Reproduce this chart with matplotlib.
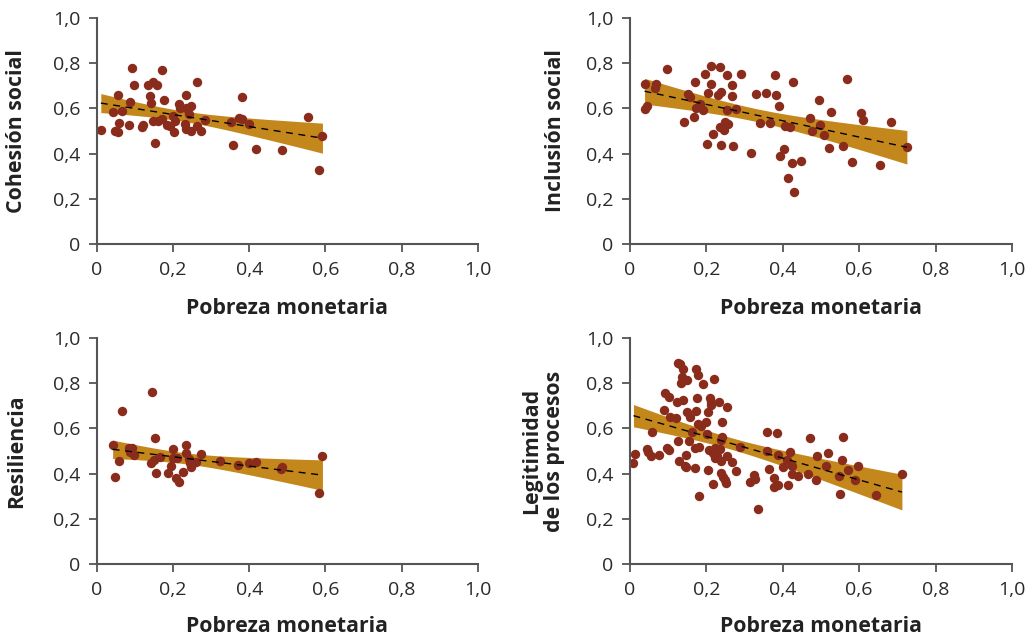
import numpy as np
import matplotlib
matplotlib.use("Agg")
import matplotlib.pyplot as plt

plt.rcParams['font.family'] = ['Open Sans', 'DejaVu Sans']

# Cohesión social vs pobreza monetaria
cohesion_x = [0.01, 0.093, 0.17, 0.098, 0.135, 0.146, 0.157, 0.262, 0.055, 0.14,
              0.176, 0.233, 0.381, 0.087, 0.143, 0.216, 0.247, 0.235, 0.218, 0.043,
              0.066, 0.241, 0.2, 0.171, 0.148, 0.161, 0.206, 0.283, 0.353, 0.372,
              0.382, 0.4, 0.554, 0.059, 0.085, 0.122, 0.117, 0.184, 0.192, 0.231,
              0.262, 0.047, 0.054, 0.201, 0.235, 0.248, 0.273, 0.151, 0.356, 0.417,
              0.485, 0.592, 0.584]
cohesion_y = [0.504, 0.777, 0.771, 0.705, 0.705, 0.717, 0.702, 0.717, 0.658, 0.655,
              0.637, 0.661, 0.649, 0.627, 0.625, 0.619, 0.612, 0.6, 0.603, 0.585,
              0.59, 0.575, 0.568, 0.554, 0.544, 0.543, 0.544, 0.549, 0.541, 0.559,
              0.553, 0.53, 0.561, 0.534, 0.525, 0.528, 0.518, 0.527, 0.522, 0.53,
              0.522, 0.5, 0.496, 0.496, 0.508, 0.501, 0.5, 0.446, 0.437, 0.42,
              0.417, 0.479, 0.327]

# Inclusión social
inclusion_x = [0.038, 0.068, 0.065, 0.098, 0.039, 0.045, 0.151, 0.157, 0.17, 0.142,
               0.168, 0.173, 0.183, 0.19, 0.196, 0.212, 0.236, 0.254, 0.212, 0.203,
               0.231, 0.238, 0.268, 0.266, 0.29, 0.253, 0.277, 0.249, 0.256, 0.236,
               0.246, 0.217, 0.202, 0.238, 0.269, 0.317, 0.331, 0.357, 0.38, 0.383,
               0.389, 0.34, 0.367, 0.405, 0.418, 0.427, 0.392, 0.404, 0.423, 0.447,
               0.415, 0.43, 0.471, 0.477, 0.496, 0.497, 0.509, 0.526, 0.521, 0.557,
               0.568, 0.582, 0.604, 0.609, 0.655, 0.684, 0.725]
inclusion_y = [0.708, 0.708, 0.692, 0.774, 0.597, 0.611, 0.662, 0.649, 0.718, 0.541,
               0.561, 0.602, 0.619, 0.593, 0.751, 0.788, 0.782, 0.748, 0.709, 0.669,
               0.659, 0.674, 0.704, 0.655, 0.752, 0.594, 0.596, 0.54, 0.531, 0.516,
               0.504, 0.487, 0.442, 0.437, 0.435, 0.404, 0.662, 0.669, 0.748, 0.659,
               0.612, 0.537, 0.534, 0.522, 0.516, 0.718, 0.389, 0.42, 0.357, 0.366,
               0.293, 0.23, 0.558, 0.501, 0.639, 0.525, 0.481, 0.583, 0.426, 0.432,
               0.731, 0.364, 0.578, 0.549, 0.351, 0.538, 0.431]

# Resiliencia
resiliencia_x = [0.041, 0.065, 0.145, 0.058, 0.048, 0.152, 0.084, 0.093, 0.087, 0.097,
                 0.142, 0.15, 0.165, 0.156, 0.199, 0.199, 0.209, 0.193, 0.187, 0.208,
                 0.216, 0.233, 0.234, 0.241, 0.244, 0.248, 0.227, 0.261, 0.273, 0.324,
                 0.371, 0.4, 0.417, 0.482, 0.485, 0.592, 0.584]
resiliencia_y = [0.527, 0.676, 0.762, 0.456, 0.384, 0.559, 0.513, 0.513, 0.496, 0.482,
                 0.447, 0.46, 0.475, 0.401, 0.509, 0.47, 0.47, 0.435, 0.404, 0.381,
                 0.363, 0.525, 0.491, 0.463, 0.446, 0.428, 0.409, 0.453, 0.488, 0.457,
                 0.44, 0.448, 0.453, 0.42, 0.428, 0.478, 0.313]

# Legitimidad de los procesos
legitimidad_x = [0.126, 0.131, 0.138, 0.135, 0.15, 0.134, 0.174, 0.178, 0.19, 0.221,
                 0.091, 0.103, 0.122, 0.139, 0.175, 0.209, 0.211, 0.213, 0.232, 0.253,
                 0.088, 0.149, 0.174, 0.203, 0.105, 0.121, 0.156, 0.242, 0.177, 0.186,
                 0.198, 0.058, 0.161, 0.202, 0.238, 0.242, 0.126, 0.155, 0.287, 0.359,
                 0.386, 0.471, 0.045, 0.047, 0.054, 0.075, 0.097, 0.101, 0.012, 0.009,
                 0.171, 0.18, 0.206, 0.223, 0.235, 0.216, 0.227, 0.223, 0.238, 0.255,
                 0.267, 0.277, 0.146, 0.129, 0.144, 0.147, 0.17, 0.204, 0.238, 0.244,
                 0.249, 0.251, 0.217, 0.18, 0.36, 0.388, 0.418, 0.412, 0.4, 0.425,
                 0.365, 0.423, 0.441, 0.325, 0.327, 0.314, 0.376, 0.387, 0.378, 0.413,
                 0.465, 0.49, 0.487, 0.519, 0.513, 0.555, 0.559, 0.572, 0.548, 0.549,
                 0.59, 0.598, 0.644, 0.712, 0.334]
legitimidad_y = [0.891, 0.885, 0.863, 0.829, 0.814, 0.8, 0.863, 0.835, 0.795, 0.82,
                 0.755, 0.74, 0.718, 0.724, 0.736, 0.733, 0.716, 0.704, 0.716, 0.693,
                 0.683, 0.671, 0.678, 0.671, 0.65, 0.647, 0.649, 0.627, 0.619, 0.611,
                 0.63, 0.585, 0.585, 0.574, 0.549, 0.561, 0.544, 0.546, 0.519, 0.585,
                 0.58, 0.558, 0.507, 0.497, 0.478, 0.482, 0.513, 0.504, 0.485, 0.448,
                 0.512, 0.519, 0.504, 0.515, 0.509, 0.49, 0.478, 0.468, 0.456, 0.477,
                 0.45, 0.412, 0.482, 0.456, 0.435, 0.428, 0.426, 0.416, 0.401, 0.386,
                 0.372, 0.357, 0.355, 0.3, 0.501, 0.481, 0.497, 0.46, 0.431, 0.434,
                 0.419, 0.397, 0.389, 0.392, 0.375, 0.361, 0.381, 0.35, 0.342, 0.35,
                 0.4, 0.478, 0.372, 0.49, 0.434, 0.459, 0.563, 0.417, 0.391, 0.308,
                 0.373, 0.432, 0.307, 0.4, 0.245]

panels = [
    (cohesion_x, cohesion_y, "Cohesión social"),
    (inclusion_x, inclusion_y, "Inclusión social"),
    (resiliencia_x, resiliencia_y, "Resiliencia"),
    (legitimidad_x, legitimidad_y, "Legitimidad\nde los procesos"),
]

tick_vals = [0, 0.2, 0.4, 0.6, 0.8, 1.0]
tick_labels = ["0", "0,2", "0,4", "0,6", "0,8", "1,0"]
x_label = "Pobreza monetaria"

DOT = "#8a2c1c"
BAND = "#c4871c"
AXIS = "#555555"

# axes rectangles in figure fractions (left, bottom, width, height)
rects = [
    (0.094, 0.6157, 0.369, 0.356),
    (0.6105, 0.6157, 0.370, 0.356),
    (0.094, 0.1118, 0.369, 0.356),
    (0.6105, 0.1118, 0.370, 0.356),
]
ylabel_x = [-0.184, -0.168, -0.184, -0.17]
xlabel_y = [-0.237, -0.237, -0.229, -0.229]


def ols_band(x, y, n=100):
    # linear fit with 95% confidence band of the mean
    x = np.asarray(x)
    y = np.asarray(y)
    slope, inter = np.polyfit(x, y, 1)
    resid = y - (inter + slope * x)
    dof = len(x) - 2
    s = np.sqrt(np.sum(resid ** 2) / dof)
    xs = np.linspace(x.min(), x.max(), n)
    se = s * np.sqrt(1 / len(x) + (xs - x.mean()) ** 2 / np.sum((x - x.mean()) ** 2))
    t = 1.98 if dof > 100 else 2.0
    fit = inter + slope * xs
    return xs, fit, fit - t * se, fit + t * se


fig = plt.figure(figsize=(10.32, 6.35), dpi=100)

for i, (xv, yv, name) in enumerate(panels):
    ax = fig.add_axes(rects[i])
    xs, fit, lo, hi = ols_band(xv, yv)
    ax.fill_between(xs, lo, hi, color=BAND, lw=0, zorder=1)
    ax.scatter(xv, yv, s=46, color=DOT, lw=0, zorder=2)
    ax.plot(xs, fit, color="black", lw=1, ls=(0, (5, 4)), zorder=3)

    ax.set_xlim(0, 1.0)
    ax.set_ylim(0, 1.0)
    ax.set_xticks(tick_vals)
    ax.set_xticklabels(tick_labels)
    ax.set_yticks(tick_vals)
    ax.set_yticklabels(tick_labels)
    ax.tick_params(labelsize=14, colors=AXIS, labelcolor="#2a2a2a",
                   length=6, width=1.3, pad=6)
    for side in ["top", "right"]:
        ax.spines[side].set_visible(False)
    for side in ["left", "bottom"]:
        ax.spines[side].set_color(AXIS)
        ax.spines[side].set_linewidth(1.5)

    ax.set_xlabel(x_label, fontsize=15.3, fontweight="bold", color="#222222")
    ax.xaxis.set_label_coords(0.5, xlabel_y[i])
    ax.set_ylabel(name, fontsize=15.3, fontweight="bold", color="#222222",
                  linespacing=1.1)
    ax.yaxis.set_label_coords(ylabel_x[i], 0.5)

fig.savefig("out.png", dpi=100)
